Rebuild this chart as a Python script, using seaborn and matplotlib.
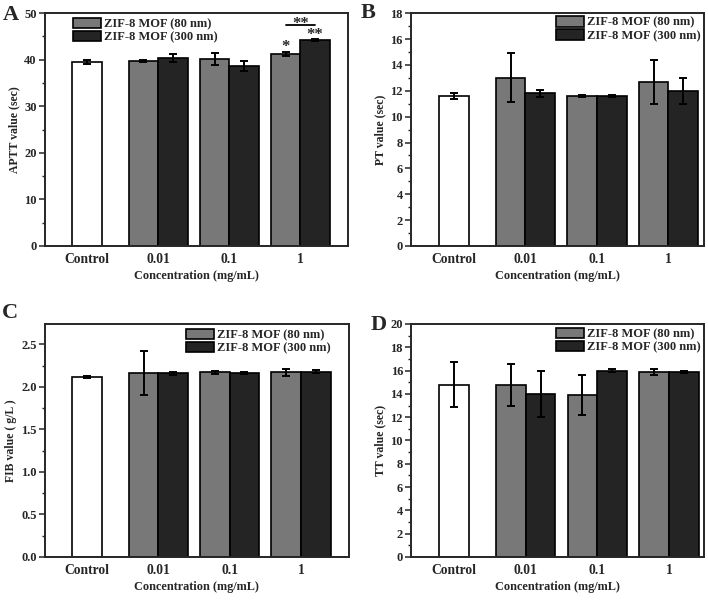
import matplotlib
matplotlib.use("Agg")
import pandas as pd
import matplotlib.pyplot as plt
import seaborn as sns
from matplotlib.patches import Patch
from matplotlib.ticker import MultipleLocator

concs = ["Control", "0.01", "0.1", "1"]
series = ["ZIF-8 MOF (80 nm)", "ZIF-8 MOF (300 nm)"]
colors = ["#787878", "#242424"]

# APTT (sec)
aptt_ctrl, aptt_ctrl_err = 39.5, 0.5
aptt_80 = [39.7, 40.2, 41.3]
aptt_80_err = [0.2, 1.3, 0.4]
aptt_300 = [40.4, 38.7, 44.3]
aptt_300_err = [0.8, 1.1, 0.2]

# PT (sec)
pt_ctrl, pt_ctrl_err = 11.6, 0.2
pt_80 = [13.0, 11.6, 12.7]
pt_80_err = [1.9, 0.1, 1.7]
pt_300 = [11.8, 11.6, 12.0]
pt_300_err = [0.25, 0.1, 1.0]

# FIB (g/L)
fib_ctrl, fib_ctrl_err = 2.12, 0.01
fib_80 = [2.16, 2.17, 2.17]
fib_80_err = [0.26, 0.02, 0.04]
fib_300 = [2.16, 2.16, 2.18]
fib_300_err = [0.02, 0.01, 0.02]

# TT (sec)
tt_ctrl, tt_ctrl_err = 14.8, 1.9
tt_80 = [14.8, 13.9, 15.9]
tt_80_err = [1.8, 1.75, 0.25]
tt_300 = [14.0, 16.0, 15.9]
tt_300_err = [1.95, 0.15, 0.1]

sns.set_style("ticks")
plt.rcParams["font.family"] = ["Liberation Serif", "DejaVu Serif"]
plt.rcParams["font.weight"] = "bold"
plt.rcParams["axes.labelweight"] = "bold"


def draw_panel(ax, ctrl, ctrl_err, v80, e80, v300, e300, ylabel, ymax, major, xlim, leg_anchor):
    ctrl_df = pd.DataFrame({"conc": ["Control"], "value": [ctrl]})
    sns.barplot(data=ctrl_df, x="conc", y="value", order=concs, color="white",
                saturation=1, edgecolor="black", linewidth=1.2, width=0.415,
                errorbar=None, ax=ax)
    grp = pd.DataFrame({"conc": concs[1:] * 2,
                        "series": [series[0]] * 3 + [series[1]] * 3,
                        "value": v80 + v300})
    sns.barplot(data=grp, x="conc", y="value", hue="series", order=concs,
                hue_order=series, palette=colors, saturation=1, edgecolor="black",
                linewidth=1.2, width=0.83, gap=0, errorbar=None, legend=False, ax=ax)

    errs = [[ctrl_err], e80, e300]
    for cont, err in zip(ax.containers, errs):
        xs = [b.get_x() + b.get_width() / 2 for b in cont]
        ys = [b.get_height() for b in cont]
        ax.errorbar(xs, ys, yerr=err, fmt="none", ecolor="black", elinewidth=1.4,
                    capsize=3, capthick=1.4, zorder=3)

    ax.set_xlim(*xlim)
    ax.set_ylim(0, ymax)
    ax.yaxis.set_major_locator(MultipleLocator(major))
    ax.yaxis.set_minor_locator(MultipleLocator(major / 2))
    ax.set_ylabel(ylabel, fontsize=8.5, fontweight="bold", labelpad=3)
    ax.set_xlabel("Concentration (mg/mL)", fontsize=8.8, fontweight="bold", labelpad=3)
    ax.tick_params(axis="x", length=0, labelsize=9.8, pad=5)
    ax.tick_params(axis="y", which="major", direction="out", length=4, width=1.1, labelsize=9, pad=2)
    ax.tick_params(axis="y", which="minor", direction="out", length=2, width=1.0)
    for s in ax.spines.values():
        s.set_visible(True)
        s.set_linewidth(1.4)

    handles = [Patch(facecolor=c, edgecolor="black", linewidth=1.2) for c in colors]
    ax.legend(handles, series, loc="upper left", bbox_to_anchor=leg_anchor,
              frameon=False, borderpad=0, borderaxespad=0,
              handlelength=2.25, handleheight=0.9, handletextpad=0.25,
              labelspacing=0.05, prop={"weight": "bold", "size": 9})
    return ax


fig = plt.figure(figsize=(7.08, 6), dpi=100)
axA = fig.add_axes([0.0636, 0.59, 0.428, 0.388])
axB = fig.add_axes([0.5805, 0.59, 0.414, 0.388])
axC = fig.add_axes([0.0636, 0.0717, 0.429, 0.3883])
axD = fig.add_axes([0.5809, 0.0717, 0.4134, 0.3883])

draw_panel(axA, aptt_ctrl, aptt_ctrl_err, aptt_80, aptt_80_err, aptt_300, aptt_300_err,
           "APTT value (sec)", 50, 10, (-0.59, 3.67), (0.091, 0.98))
draw_panel(axB, pt_ctrl, pt_ctrl_err, pt_80, pt_80_err, pt_300, pt_300_err,
           "PT value (sec)", 18, 2, (-0.60, 3.5), (0.494, 0.987))
draw_panel(axC, fib_ctrl, fib_ctrl_err, fib_80, fib_80_err, fib_300, fib_300_err,
           "FIB value ( g/L )", 2.74, 0.5, (-0.59, 3.67), (0.464, 0.979))
draw_panel(axD, tt_ctrl, tt_ctrl_err, tt_80, tt_80_err, tt_300, tt_300_err,
           "TT value (sec)", 20, 2, (-0.60, 3.49), (0.494, 0.983))

# significance marks in panel A
b80 = axA.containers[1][2]
b300 = axA.containers[2][2]
x80 = b80.get_x() + b80.get_width() / 2
x300 = b300.get_x() + b300.get_width() / 2
axA.text(x80, aptt_80[2] + aptt_80_err[2] + 1.0, "*", ha="center", va="center", fontsize=12, fontweight="bold")
axA.text(x300, aptt_300[2] + aptt_300_err[2] + 0.8, "**", ha="center", va="center", fontsize=12, fontweight="bold")
axA.plot([x80, x300], [47.4, 47.4], color="black", lw=1.3)
axA.text((x80 + x300) / 2, 47.7, "**", ha="center", va="center", fontsize=12, fontweight="bold")

for lab, x, y in [("A", 0.004, 0.967), ("B", 0.510, 0.970), ("C", 0.003, 0.470), ("D", 0.524, 0.450)]:
    fig.text(x, y, lab, fontsize=16, fontweight="bold", va="baseline")

fig.savefig("out.png", dpi=100)
